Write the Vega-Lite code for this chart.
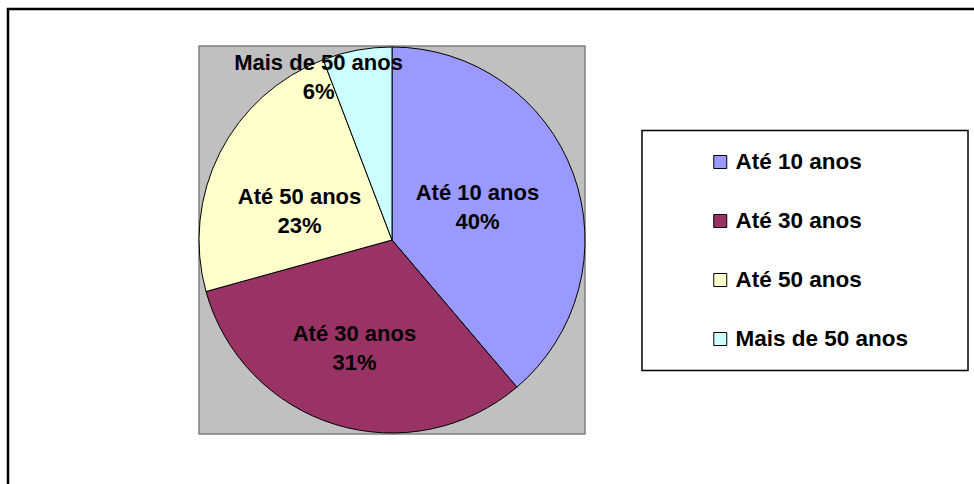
{
  "$schema": "https://vega.github.io/schema/vega-lite/v6.json",
  "width": 386,
  "height": 388,
  "autosize": {"type": "none"},
  "padding": {"left": 199, "top": 46, "right": 389, "bottom": 50},
  "background": "white",
  "view": {"fill": "#C0C0C0", "stroke": "#808080", "strokeWidth": 1.5},
  "config": {
    "text": {"font": "Liberation Sans"}
  },
  "data": {
    "values": [
      {"group": "Até 10 anos", "value": 38.8, "label": "Até 10 anos\n40%"},
      {"group": "Até 30 anos", "value": 31.9, "label": "Até 30 anos\n31%"},
      {"group": "Até 50 anos", "value": 23.5, "label": "Até 50 anos\n23%"},
      {"group": "Mais de 50 anos", "value": 5.8, "label": "Mais de 50 anos\n6%"}
    ]
  },
  "encoding": {
    "theta": {"field": "value", "type": "quantitative", "stack": true}
  },
  "layer": [
    {
      "data": {"values": [{"frame": 1}]},
      "mark": {"type": "rect", "x": -191, "y": -37, "x2": 790, "y2": 450, "filled": false, "stroke": "black", "strokeWidth": 2.5, "clip": false},
      "encoding": {}
    },
    {
      "mark": {"type": "arc", "stroke": "black", "strokeWidth": 1},
      "encoding": {
        "color": {
          "field": "group",
          "type": "nominal",
          "scale": {
            "domain": ["Até 10 anos", "Até 30 anos", "Até 50 anos", "Mais de 50 anos"],
            "range": ["#9999FF", "#993366", "#FFFFCC", "#CCFFFF"]
          },
          "legend": {
            "title": "\u00a0",
            "titleOrient": "right",
            "titlePadding": 58,
            "titleFontSize": 10,
            "orient": "none",
            "legendX": 443,
            "legendY": 84.5,
            "padding": 2,
            "strokeColor": "black",
            "fillColor": "white",
            "symbolType": "square",
            "symbolSize": 169,
            "symbolStrokeColor": "black",
            "symbolStrokeWidth": 1,
            "symbolOpacity": 1,
            "symbolOffset": 65,
            "labelOffset": 4,
            "labelFont": "Liberation Sans",
            "labelFontWeight": "bold",
            "labelFontSize": 22.5,
            "labelColor": "black",
            "labelLimit": 400,
            "clipHeight": 59,
            "rowPadding": 0,
            "encode": {"legend": {"update": {"strokeWidth": {"value": 1.5}}}}
          }
        }
      }
    },
    {
      "mark": {"type": "text", "radius": 91, "dy": -16, "fontWeight": "bold", "fontSize": 22, "lineHeight": 29.3, "lineBreak": "\n", "color": "black"},
      "encoding": {
        "text": {"condition": {"test": "datum.group === 'Até 10 anos'", "field": "label"}, "value": ""}
      }
    },
    {
      "mark": {"type": "text", "radius": 114, "dx": -4, "dy": -15, "fontWeight": "bold", "fontSize": 22, "lineHeight": 29.3, "lineBreak": "\n", "color": "black"},
      "encoding": {
        "text": {"condition": {"test": "datum.group === 'Até 30 anos'", "field": "label"}, "value": ""}
      }
    },
    {
      "mark": {"type": "text", "radius": 98, "dx": -5, "dy": 1, "fontWeight": "bold", "fontSize": 22, "lineHeight": 29.3, "lineBreak": "\n", "color": "black"},
      "encoding": {
        "text": {"condition": {"test": "datum.group === 'Até 50 anos'", "field": "label"}, "value": ""}
      }
    },
    {
      "mark": {"type": "text", "radius": 168, "dx": -43, "dy": -12, "fontWeight": "bold", "fontSize": 22, "lineHeight": 29.3, "lineBreak": "\n", "color": "black"},
      "encoding": {
        "text": {"condition": {"test": "datum.group === 'Mais de 50 anos'", "field": "label"}, "value": ""}
      }
    }
  ]
}
